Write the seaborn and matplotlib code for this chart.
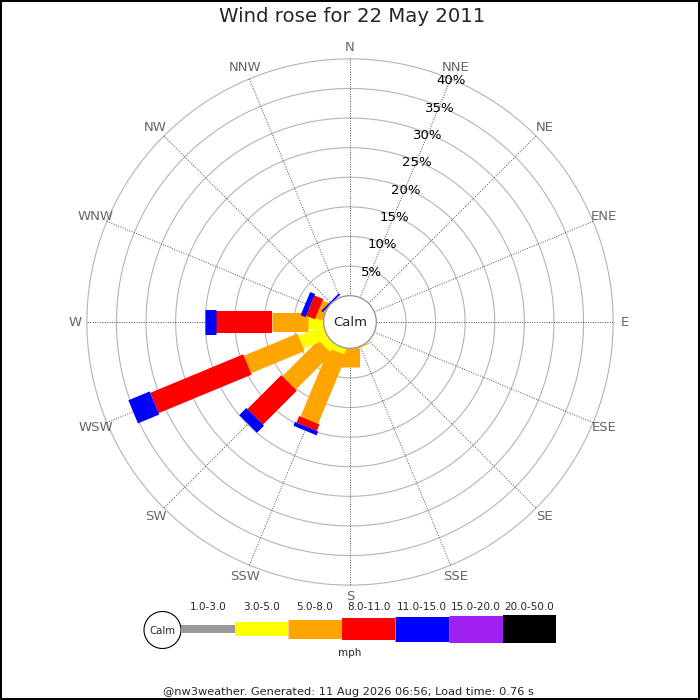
import numpy as np
import pandas as pd
import matplotlib
matplotlib.use("Agg")
import matplotlib.pyplot as plt
from matplotlib.patches import Circle, Rectangle
import seaborn as sns

# ---- data (percent of the day per direction and speed band) ----
directions = ["N", "NNE", "NE", "ENE", "E", "ESE", "SE", "SSE",
              "S", "SSW", "SW", "WSW", "W", "WNW", "NW", "NNW"]
speed_bands = ["1.0-3.0", "3.0-5.0", "5.0-8.0", "8.0-11.0",
               "11.0-15.0", "15.0-20.0", "20.0-50.0"]
band_colors = ["#999999", "#ffff00", "#ffa500", "#ff0000",
               "#0000ff", "#a020f0", "#000000"]

pct_1_3 = [0, 0, 0, 0, 0, 0, 0, 0, 0, 0, 0, 0, 0, 0, 0, 0]
pct_3_5 = [0, 0, 0, 0, 0, 0, 0, 0, 0, 1.0, 1.5, 4.5, 2.7, 0, 0, 0]
pct_5_8 = [0, 0, 0, 0, 0, 0, 0, 0.2, 3.2, 12.5, 8.6, 9.8, 6.1, 1.2, 0, 0]
pct_8_11 = [0, 0, 0, 0, 0, 0, 0, 0, 0, 1.2, 8.1, 17.0, 9.4, 1.6, 0, 0]
pct_11_15 = [0, 0, 0, 0, 0, 0, 0, 0, 0, 0.7, 1.7, 3.9, 1.9, 0.9, 0.3, 0]
pct_15_20 = [0, 0, 0, 0, 0, 0, 0, 0, 0, 0, 0, 0, 0, 0, 0, 0]
pct_20_50 = [0, 0, 0, 0, 0, 0, 0, 0, 0, 0, 0, 0, 0, 0, 0, 0]

ring_pcts = [5, 10, 15, 20, 25, 30, 35, 40]

title = "Wind rose for 22 May 2011"
footer = "@nw3weather. Generated: 11 Aug 2026 06:56; Load time: 0.76 s"

# long form table
df = pd.DataFrame({"dir": directions,
                   speed_bands[0]: pct_1_3, speed_bands[1]: pct_3_5,
                   speed_bands[2]: pct_5_8, speed_bands[3]: pct_8_11,
                   speed_bands[4]: pct_11_15, speed_bands[5]: pct_15_20,
                   speed_bands[6]: pct_20_50})

# ---- style ----
sns.set_theme(style="white")
plt.rcParams['font.family'] = ['DejaVu Sans']
palette = sns.color_palette(band_colors)
band_px = [8, 14, 19, 22, 25, 27, 28]   # leg thickness in pixels

PX = 5.92      # pixels per percent
CALM = 4.45    # calm circle radius (percent units)
R_OUT = CALM + ring_pcts[-1]

fig = plt.figure(figsize=(7, 7), dpi=100)
ax = fig.add_axes([0, 0, 1, 1])
ax.set_xlim(-350 / PX, 350 / PX)
ax.set_ylim(-378 / PX, 322 / PX)
ax.axis("off")

# rings
t = np.linspace(0, 2 * np.pi, 400)
for p in ring_pcts:
    ax.plot((CALM + p) * np.sin(t), (CALM + p) * np.cos(t),
            color="#b4b4b4", lw=0.8, zorder=1)

# spokes + compass labels
for i, d in enumerate(directions):
    a = np.deg2rad(22.5 * i)
    ax.plot([CALM * np.sin(a), R_OUT * np.sin(a)],
            [CALM * np.cos(a), R_OUT * np.cos(a)],
            color="#505050", lw=0.7, ls=(0, (1, 1.5)), zorder=1)
    ax.text(46.45 * np.sin(a), 46.45 * np.cos(a), d, color="#666666",
            fontsize=9.5, ha="center", va="center")

# legs
for i, row in df.iterrows():
    a = np.deg2rad(22.5 * i)
    r0 = CALM
    for k, band in enumerate(speed_bands):
        v = row[band]
        if v <= 0:
            continue
        r1 = r0 + v
        ax.plot([r0 * np.sin(a), r1 * np.sin(a)],
                [r0 * np.cos(a), r1 * np.cos(a)],
                color=palette[k], lw=band_px[k] * 0.72,
                solid_capstyle="butt", zorder=2)
        r0 = r1

# calm circle
ax.add_patch(Circle((0, 0), CALM, facecolor="white", edgecolor="#999999",
                    lw=1.0, zorder=3))
ax.text(0, 0, "Calm", fontsize=9.5, ha="center", va="center", zorder=4)

# percent labels along NNE spoke
a = np.deg2rad(22.5)
for p in ring_pcts:
    ax.text((CALM + p) * np.sin(a), (CALM + p) * np.cos(a) - 0.3, f"{p}%",
            fontsize=9.5, ha="center", va="center", color="black", zorder=4)

# ---- legend / title / footer in pixel coordinates ----
lax = fig.add_axes([0, 0, 1, 1], facecolor="none")
lax.set_xlim(0, 700)
lax.set_ylim(700, 0)
lax.axis("off")

lax.text(352, 17, title, fontsize=14.2, ha="center", va="center")

lax.add_patch(Circle((162.5, 630), 18.5, facecolor="white",
                     edgecolor="black", lw=0.8))
lax.text(162.5, 630.5, "Calm", fontsize=7.3, ha="center", va="center")
seg_w = 53.6
x0 = 181
for k, band in enumerate(speed_bands):
    lax.plot([x0 + k * seg_w, x0 + (k + 1) * seg_w], [629, 629],
             color=palette[k], lw=band_px[k] * 0.72, solid_capstyle="butt")
    lax.text(x0 + (k + 0.5) * seg_w, 607, band, fontsize=7.5,
             ha="center", va="center")
lax.text(350, 653, "mph", fontsize=7.5, ha="center", va="center")

lax.text(348, 692, footer, fontsize=8.2, ha="center", va="center")

lax.add_patch(Rectangle((1, 1), 698, 698, fill=False, edgecolor="black",
                        lw=1.44))

fig.savefig("out.png", dpi=100)
